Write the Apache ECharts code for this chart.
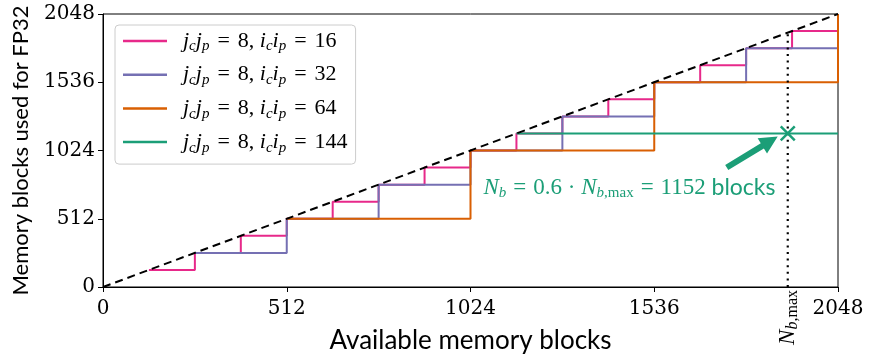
<!DOCTYPE html>
<html><head><meta charset="utf-8">
<script src="https://cdn.jsdelivr.net/npm/echarts@6/dist/echarts.min.js"></script>
<style>html,body{margin:0;padding:0;background:#fff}#c{width:869px;height:363px}</style>
</head><body><div id="c"></div>
<script>
// ---- data ----
const xTicks = [0, 512, 1024, 1536, 2048];
const seriesNames = ['16', '32', '64', '144'];
const pinkX   = [128, 256, 384, 512, 640, 768, 896, 1024, 1152, 1280, 1408, 1536, 1664, 1792, 1920, 2048];
const pinkY   = [128, 256, 384, 512, 640, 768, 896, 1024, 1152, 1280, 1408, 1536, 1664, 1792, 1920, 2048];
const purpleX = [256, 512, 768, 1024, 1280, 1536, 1792, 2048];
const purpleY = [256, 512, 768, 1024, 1280, 1536, 1792, 2048];
const orangeX = [512, 1024, 1536, 2048];
const orangeY = [512, 1024, 1536, 2048];
const greenX  = [1152, 2048];
const greenY  = [1152, 1152];
const diagX   = [0, 2048];
const diagY   = [0, 2048];
const nbMax   = 1908;        // N_b,max marker position
const nbUsed  = 1152;        // 0.6 * N_b,max
const arrowFrom = [1738, 896];
const arrowTo   = [1880, 1129];
const noteAt    = [1467, 746];

const C = {pink:'#e7298a', purple:'#7570b3', orange:'#d95f02', green:'#1b9e77'};
const SERIF = 'Liberation Serif';
const TICKF = 'DejaVu Serif';
const SANS = 'Lato';

const zip = (a, b) => a.map((v, i) => [v, b[i]]);

function stepSeries(name, xs, ys, color) {
  return {
    name, type: 'line', step: 'end', data: zip(xs, ys), showSymbol: false,
    itemStyle: {color}, lineStyle: {color, width: 2}, animation: false, z: 3
  };
}

const legendRich = {
  sp: {width: 11, fontSize: 10},
  m: {fontFamily: SERIF, fontStyle: 'italic', fontSize: 22, color: '#000', verticalAlign: 'middle'},
  s: {fontFamily: SERIF, fontStyle: 'italic', fontSize: 15, color: '#000', padding: [11, 0, 0, 0], verticalAlign: 'middle'},
  eq: {fontFamily: SERIF, fontSize: 22, color: '#000', padding: [0, 8, 0, 8], verticalAlign: 'middle'},
  t: {fontFamily: SERIF, fontSize: 22, color: '#000', verticalAlign: 'middle'}
};

const chart = echarts.init(document.getElementById('c'), null, {renderer: 'canvas'});

const option = {
  animation: false,
  grid: {left: 103, right: 31, top: 14, bottom: 76, outerBoundsMode: 'none', containLabel: false,
         show: true, borderColor: '#000', borderWidth: 1, backgroundColor: 'transparent'},
  legend: {
    orient: 'vertical', left: 115, top: 25,
    data: seriesNames, icon: 'rect', itemWidth: 44, itemHeight: 2.5, itemGap: 9.7,
    padding: [5, 8, 9, 8], borderColor: '#cccccc', borderWidth: 1, borderRadius: 4,
    backgroundColor: 'rgba(255,255,255,0.85)',
    textStyle: {lineHeight: 21, rich: legendRich},
    formatter: n => '{sp| }{m|j}{s|c}{m|j}{s|p}{eq|=}{t|8, }{m|i}{s|c}{m|i}{s|p}{eq|=}{t|' + n + '}'
  },
  xAxis: {
    type: 'value', min: 0, max: 2048, interval: 512,
    name: 'Available memory blocks', nameLocation: 'middle', nameGap: 41,
    nameTextStyle: {fontFamily: SANS, fontSize: 26, color: '#000'},
    axisLine: {lineStyle: {color: '#000', width: 1}},
    axisTick: {show: true, length: 5, lineStyle: {color: '#000'}},
    axisLabel: {fontFamily: TICKF, fontSize: 20, color: '#000', margin: 12, formatter: v => String(v)},
    splitLine: {show: false}
  },
  yAxis: {
    type: 'value', min: 0, max: 2048, interval: 512,
    name: 'Memory blocks used for FP32', nameLocation: 'middle', nameGap: 71, nameRotate: 90,
    nameTextStyle: {fontFamily: SANS, fontSize: 22, color: '#000'},
    axisLine: {show: true, lineStyle: {color: '#000', width: 1}},
    axisTick: {show: true, length: 5, lineStyle: {color: '#000'}},
    axisLabel: {fontFamily: TICKF, fontSize: 20, color: '#000', margin: 8, formatter: v => String(v)},
    splitLine: {show: false}
  },
  series: [
    stepSeries('16', pinkX, pinkY, C.pink),
    stepSeries('32', purpleX, purpleY, C.purple),
    stepSeries('64', orangeX, orangeY, C.orange),
    stepSeries('144', greenX, greenY, C.green),
    {
      name: 'diag', type: 'line', data: zip(diagX, diagY), showSymbol: false, z: 5,
      lineStyle: {color: '#000', width: 2, type: [8, 5]}, animation: false
    },
    {
      name: 'nbmax', type: 'line', data: [[nbMax, 0], [nbMax, nbMax]], showSymbol: false, z: 5,
      lineStyle: {color: '#000', width: 2.2, type: [2, 4.6]}, animation: false
    },
    {
      name: 'annot', type: 'custom', coordinateSystem: 'cartesian2d', z: 10, clip: false,
      data: [[nbMax, nbUsed]],
      renderItem: function (params, api) {
        const c = api.coord([nbMax, nbUsed]);
        const a0 = api.coord(arrowFrom), a1 = api.coord(arrowTo);
        const t = api.coord(noteAt);
        const b = api.coord([nbMax, 0]);
        const dx = a1[0] - a0[0], dy = a1[1] - a0[1];
        const L = Math.hypot(dx, dy), ux = dx / L, uy = dy / L, nx = -uy, ny = ux;
        const hw = 3, hh = 9, hl = 18;
        const bx = a1[0] - ux * hl, by = a1[1] - uy * hl;
        const pts = [
          [a0[0] + nx * hw, a0[1] + ny * hw],
          [bx + nx * hw, by + ny * hw],
          [bx + nx * hh, by + ny * hh],
          [a1[0], a1[1]],
          [bx - nx * hh, by - ny * hh],
          [bx - nx * hw, by - ny * hw],
          [a0[0] - nx * hw, a0[1] - ny * hw]
        ];
        const s = 7;
        return {
          type: 'group', children: [
            {type: 'line', shape: {x1: c[0] - s, y1: c[1] - s, x2: c[0] + s, y2: c[1] + s}, style: {stroke: C.green, lineWidth: 2.5}},
            {type: 'line', shape: {x1: c[0] - s, y1: c[1] + s, x2: c[0] + s, y2: c[1] - s}, style: {stroke: C.green, lineWidth: 2.5}},
            {type: 'polygon', shape: {points: pts}, style: {fill: C.green}},
            {type: 'text', x: t[0], y: t[1], style: {
              text: '{N|N}{s|b}{eq|=}{t|0.6 · }{N|N}{s|b}{sm|,max}{eq|=}{t|1152 }{w|blocks}',
              align: 'center', verticalAlign: 'middle', fill: C.green,
              rich: {
                N: {fontFamily: SERIF, fontStyle: 'italic', fontSize: 23, fill: C.green, verticalAlign: 'middle'},
                s: {fontFamily: SERIF, fontStyle: 'italic', fontSize: 15, fill: C.green, padding: [12, 0, 0, 0], verticalAlign: 'middle'},
                sm: {fontFamily: SERIF, fontSize: 15, fill: C.green, padding: [12, 0, 0, 0], verticalAlign: 'middle'},
                eq: {fontFamily: SERIF, fontSize: 23, fill: C.green, padding: [0, 7, 0, 7], verticalAlign: 'middle'},
                t: {fontFamily: SERIF, fontSize: 23, fill: C.green, verticalAlign: 'middle'},
                w: {fontFamily: SANS, fontSize: 23, fill: C.green, verticalAlign: 'middle'}
              }
            }},
            {type: 'text', x: b[0], y: b[1] + 3, rotation: Math.PI / 2, style: {
              text: '{N|N}{s|b}{sm|,max}',
              align: 'right', verticalAlign: 'middle', fill: '#000',
              rich: {
                N: {fontFamily: SERIF, fontStyle: 'italic', fontSize: 23, fill: '#000', verticalAlign: 'middle'},
                s: {fontFamily: SERIF, fontStyle: 'italic', fontSize: 16, fill: '#000', padding: [11, 0, 0, 0], verticalAlign: 'middle'},
                sm: {fontFamily: SERIF, fontSize: 16, fill: '#000', padding: [11, 0, 0, 0], verticalAlign: 'middle'}
              }
            }}
          ]
        };
      }
    }
  ]
};
chart.setOption(option);
</script></body></html>
